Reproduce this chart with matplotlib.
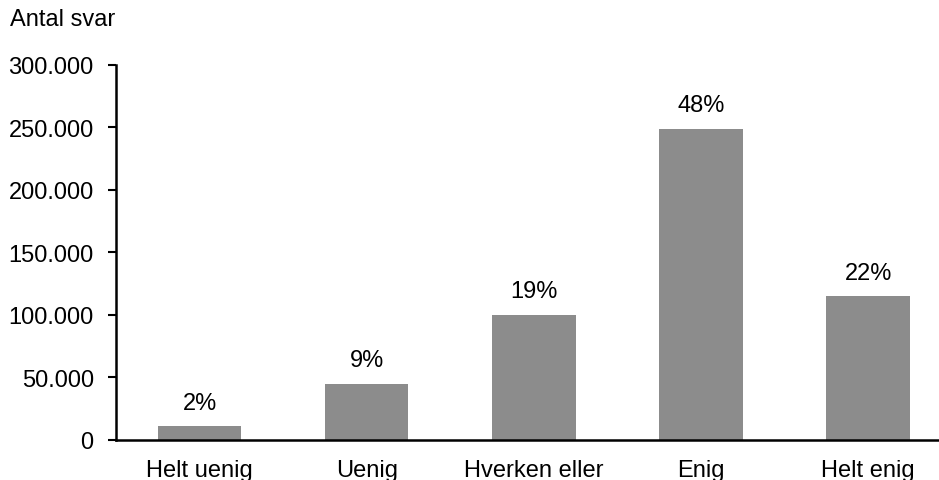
import matplotlib.pyplot as plt
from matplotlib.ticker import FuncFormatter

plt.rcParams['font.family'] = ['Liberation Sans', 'DejaVu Sans']

# data
categories = ['Helt uenig', 'Uenig', 'Hverken eller', 'Enig', 'Helt enig']
answers = [11000, 45000, 100000, 249000, 115000]
shares = ['2%', '9%', '19%', '48%', '22%']
y_ticks = [0, 50000, 100000, 150000, 200000, 250000, 300000]

fig = plt.figure(figsize=(9.39, 4.81), dpi=100)
ax = fig.add_axes([0.1235, 0.0832, 0.89, 0.78])

x = range(len(categories))
bars = ax.bar(x, answers, width=0.5, color='#8c8c8c')

# procentsatser over soejlerne
for b, s in zip(bars, shares):
    ax.annotate(s, (b.get_x() + b.get_width() / 2, b.get_height()),
                xytext=(0, 9), textcoords='offset points',
                ha='center', va='bottom', fontsize=17)

ax.set_xlim(-0.5, len(categories) - 0.5)
ax.set_ylim(0, 300000)
ax.set_yticks(y_ticks)
ax.yaxis.set_major_formatter(FuncFormatter(lambda v, p: f'{int(v):,}'.replace(',', '.')))
ax.set_xticks(list(x))
ax.set_xticklabels(categories)

ax.tick_params(axis='y', direction='out', length=6, width=1.5, labelsize=17, pad=10)
ax.tick_params(axis='x', length=0, labelsize=17, pad=14)

for side in ['top', 'right']:
    ax.spines[side].set_visible(False)
for side in ['left', 'bottom']:
    ax.spines[side].set_linewidth(1.8)

fig.text(10 / 939, 1 - 20 / 481, 'Antal svar', fontsize=17, ha='left', va='center')

fig.savefig('out.png', dpi=100)
